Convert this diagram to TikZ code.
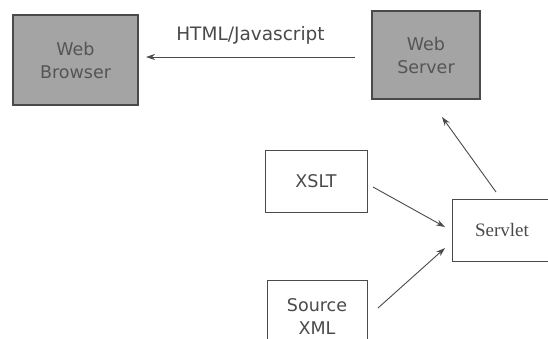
\documentclass[tikz,border=0pt]{standalone}
\usepackage{fontspec}
\setmainfont{Liberation Serif}
\newfontfamily\boxfont{DejaVu Sans}
\usetikzlibrary{arrows.meta}
\definecolor{boxgrey}{HTML}{A4A4A4}
\definecolor{inkgrey}{HTML}{4A4A4A}
\definecolor{txtgrey}{HTML}{555555}
\tikzset{
  boxtext/.style={font=\boxfont\fontsize{17.5}{23}\selectfont},
  darkbox/.style={draw=inkgrey, line width=1.2pt, fill=boxgrey, text=txtgrey,
    boxtext, align=center, inner sep=0pt},
  plainbox/.style={draw=inkgrey, line width=0.9pt, fill=white, text=inkgrey,
    boxtext, align=center, inner sep=0pt},
  flow/.style={draw=inkgrey, line width=0.9pt, -{Stealth[length=9pt,width=6pt]}}
}
\begin{document}
\begin{tikzpicture}[x=1pt,y=-1pt]
  \useasboundingbox (0,0) rectangle (548,338);
  \clip (0,0) rectangle (548,338);
  % boxes
  \node[darkbox, minimum width=125pt, minimum height=90pt] (browser) at (75.5,60) {Web\\Browser};
  \node[darkbox, minimum width=108pt, minimum height=88pt] (server) at (426,55) {Web\\Server};
  \node[plainbox, minimum width=102pt, minimum height=62pt] (xslt) at (316,181) {XSLT};
  \node[plainbox, minimum width=100pt, minimum height=62pt, font=\rmfamily\fontsize{19}{22}\selectfont] (servlet) at (502,230) {Servlet};
  \node[plainbox, minimum width=100pt, minimum height=72pt, anchor=north] (source) at (317,280) {Source\\XML};
  % connectors
  \coordinate (htmlstart) at (355,57);
  \coordinate (htmlend) at (146,57);
  \draw[flow] (htmlstart) -- node[above=9pt, text=inkgrey, font=\boxfont\fontsize{18.5}{22}\selectfont] (htmllabel) {HTML/Javascript} (htmlend);
  \coordinate (upstart) at (496,192);
  \coordinate (upend) at (442,117);
  \draw[flow] (upstart) -- (upend);
  \coordinate (xsltout) at (373,187);
  \coordinate (servin1) at (445,227);
  \draw[flow] (xsltout) -- (servin1);
  \coordinate (srcout) at (378,308);
  \coordinate (servin2) at (445,248);
  \draw[flow] (srcout) -- (servin2);
\end{tikzpicture}
\end{document}
